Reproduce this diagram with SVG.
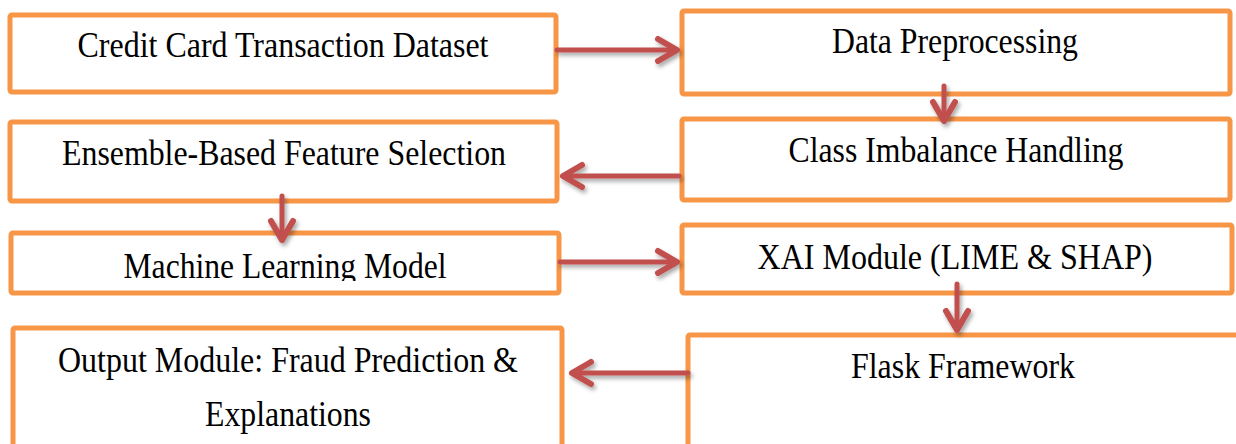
<svg xmlns="http://www.w3.org/2000/svg" width="1236" height="444" viewBox="0 0 1236 444">
  <style>
    .box { fill: #ffffff; stroke: #F79646; stroke-width: 5; }
    .label { font-family: "Liberation Serif", "Times New Roman", serif; font-size: 35px; fill: #000000; text-anchor: middle; }
    .flow { fill: none; stroke: #C0504D; stroke-width: 5; stroke-linecap: round; marker-end: url(#chev); }
  </style>
  <defs>
    <marker id="chev" markerUnits="userSpaceOnUse" viewBox="-26 -16 30 32" refX="0" refY="0" markerWidth="30" markerHeight="32" orient="auto" overflow="visible">
      <path d="M-19,-11 L0,0 L-19,11" fill="none" stroke="#C0504D" stroke-width="6" stroke-linecap="round" stroke-linejoin="round"/>
    </marker>
    <filter id="shadow" x="-20%" y="-50%" width="140%" height="200%">
      <feDropShadow dx="2" dy="3" stdDeviation="2" flood-color="#000000" flood-opacity="0.35"/>
    </filter>
    <clipPath id="mlClip">
      <rect x="0" y="230" width="600" height="51"/>
    </clipPath>
  </defs>

  <rect width="1236" height="444" fill="#ffffff"/>

  <!-- narrow, tall serif labels: widths pinned with textLength -->
  <g id="node-dataset">
    <rect class="box" x="10" y="15" width="546" height="77" rx="2"/>
    <text class="label" x="283" y="57" textLength="411" lengthAdjust="spacingAndGlyphs">Credit Card Transaction Dataset</text>
  </g>

  <g id="node-preprocessing">
    <rect class="box" x="682" y="11" width="548" height="83" rx="2"/>
    <text class="label" x="955" y="53" textLength="246" lengthAdjust="spacingAndGlyphs">Data Preprocessing</text>
  </g>

  <g id="node-imbalance">
    <rect class="box" x="682" y="119" width="548" height="81" rx="2"/>
    <text class="label" x="956" y="162" textLength="335" lengthAdjust="spacingAndGlyphs">Class Imbalance Handling</text>
  </g>

  <g id="node-feature-selection">
    <rect class="box" x="10" y="122" width="547" height="79" rx="2"/>
    <text class="label" x="284" y="165" textLength="444" lengthAdjust="spacingAndGlyphs">Ensemble-Based Feature Selection</text>
  </g>

  <g id="node-ml-model">
    <rect class="box" x="11" y="233" width="548" height="60" rx="2"/>
    <text class="label" x="285" y="278" textLength="323" lengthAdjust="spacingAndGlyphs" clip-path="url(#mlClip)">Machine Learning Model</text>
  </g>

  <g id="node-xai">
    <rect class="box" x="682" y="225" width="550" height="68" rx="2"/>
    <text class="label" x="955" y="269" textLength="395" lengthAdjust="spacingAndGlyphs">XAI Module (LIME &amp; SHAP)</text>
  </g>

  <g id="node-output">
    <rect class="box" x="13" y="328" width="549" height="130" rx="2"/>
    <text class="label" x="288" y="372" textLength="460" lengthAdjust="spacingAndGlyphs">Output Module: Fraud Prediction &amp;</text>
    <text class="label" x="288" y="426" textLength="166" lengthAdjust="spacingAndGlyphs">Explanations</text>
  </g>

  <g id="node-flask">
    <rect class="box" x="688" y="335" width="560" height="130" rx="2"/>
    <text class="label" x="963" y="378" textLength="224" lengthAdjust="spacingAndGlyphs">Flask Framework</text>
  </g>

  <g id="connectors" filter="url(#shadow)">
    <path class="flow" d="M557,50 L677,50"/>
    <path class="flow" d="M944,86 L944,121"/>
    <path class="flow" d="M679,176 L563,176"/>
    <path class="flow" d="M282,196 L282,240"/>
    <path class="flow" d="M560,262 L677,262"/>
    <path class="flow" d="M957,284 L957,330"/>
    <path class="flow" d="M688,373 L572,373"/>
  </g>
</svg>
